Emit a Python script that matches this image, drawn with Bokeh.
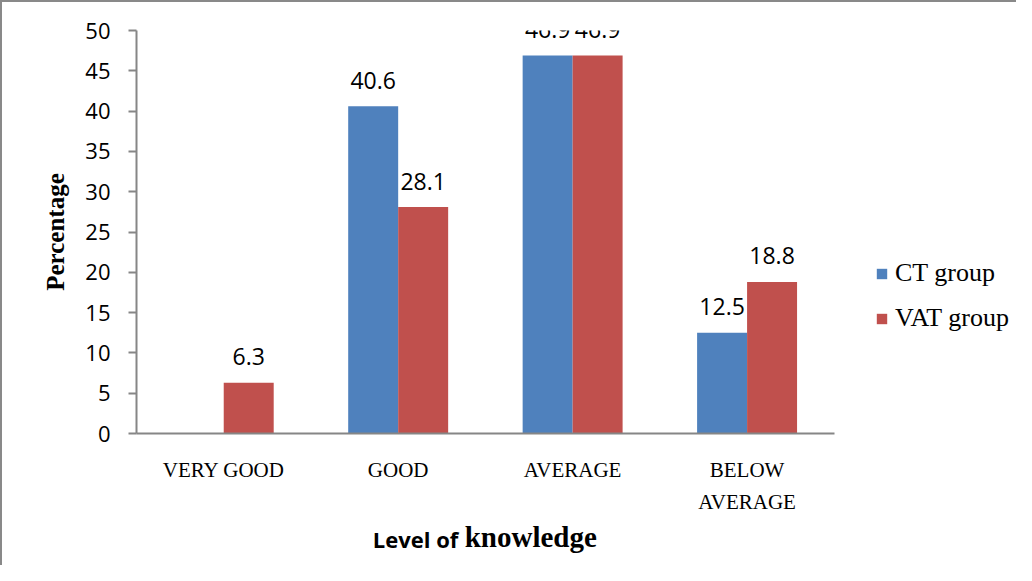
from bokeh.plotting import figure
from bokeh.models import (Range1d, ColumnDataSource, Legend, LegendItem,
                          FixedTicker, LinearAxis)
from bokeh.core.properties import value
from bokeh.embed import file_html
from bokeh.resources import INLINE

categories = ["VERY GOOD", "GOOD", "AVERAGE", "BELOW AVERAGE"]
ct_values = [0, 40.6, 46.9, 12.5]
vat_values = [6.3, 28.1, 46.9, 18.8]
series_names = ["CT group", "VAT group"]
y_ticks = [0, 5, 10, 15, 20, 25, 30, 35, 40, 45, 50]
x_title_words = ["Level of", "knowledge"]
y_title = "Percentage"

BLUE = "#4F81BD"
RED = "#C0504D"
AXIS = "#868686"

idx = list(range(len(categories)))
bw = 0.2865
off = bw / 2
source = ColumnDataSource(dict(
    xct=[i - off for i in idx], xvat=[i + off for i in idx],
    ct=ct_values, vat=vat_values,
    ctl=["" if v == 0 else f"{v}" for v in ct_values],
    vatl=["" if v == 0 else f"{v}" for v in vat_values]))

# the frame also spans the legend area on the right; the x axis line is bounded
p = figure(width=1016, height=565, x_range=Range1d(-0.5, 4.51),
           y_range=Range1d(0, 50), output_backend="svg", toolbar_location=None,
           min_border_left=134, min_border_right=8, min_border_top=28, min_border_bottom=134)
p.outline_line_color = None
p.xgrid.grid_line_color = None
p.ygrid.grid_line_color = None
p.styles = {"border-left": "2px solid #898989", "border-top": "2px solid #898989"}

r_ct = p.vbar(x="xct", top="ct", width=bw, source=source, fill_color=BLUE, line_color=None)
r_vat = p.vbar(x="xvat", top="vat", width=bw, source=source, fill_color=RED, line_color=None)

for xcol, ycol, tcol in (("xct", "ct", "ctl"), ("xvat", "vat", "vatl")):
    p.text(x=xcol, y=ycol, text=tcol, source=source,
           text_font=value("Open Sans"), text_font_size="23px", text_color="black",
           text_align="center", text_baseline="alphabetic", y_offset=-26)

# y axis
ya = p.yaxis[0]
ya.ticker = FixedTicker(ticks=y_ticks)
ya.axis_line_color = AXIS
ya.axis_line_width = 2
ya.major_tick_line_color = AXIS
ya.major_tick_line_width = 2
ya.major_tick_out = 8
ya.major_tick_in = 0
ya.minor_tick_line_color = None
ya.major_label_text_font = "Open Sans"
ya.major_label_text_font_size = "22px"
ya.major_label_text_color = "black"
ya.major_label_standoff = 18
ya.axis_label = y_title
ya.axis_label_text_font = "Liberation Serif"
ya.axis_label_text_font_style = "bold"
ya.axis_label_text_font_size = "25px"
ya.axis_label_text_color = "black"
ya.axis_label_standoff = 13


def plain_axis(ticks, overrides, font, size, standoff, style="normal"):
    return LinearAxis(ticker=FixedTicker(ticks=ticks), major_label_overrides=overrides,
                      axis_line_color=None,
                      major_tick_line_color=None, minor_tick_line_color=None,
                      major_tick_out=0, major_tick_in=0,
                      major_label_text_font=font, major_label_text_font_style=style,
                      major_label_text_font_size=size, major_label_text_color="black",
                      major_label_standoff=standoff)


# x axis: first line of category names
first_line = {i: c.split(" ")[0] if c.startswith("BELOW") else c for i, c in zip(idx, categories)}
xa = p.xaxis[0]
xa.ticker = FixedTicker(ticks=idx)
xa.major_label_overrides = first_line
xa.bounds = (-0.5, len(categories) - 0.5)
xa.axis_line_color = AXIS
xa.axis_line_width = 2
xa.major_tick_line_color = None
xa.major_tick_out = 0
xa.major_tick_in = 0
xa.minor_tick_line_color = None
xa.major_label_text_font = "Liberation Serif"
xa.major_label_text_font_size = "21px"
xa.major_label_text_color = "black"
xa.major_label_standoff = 24

# second line of "BELOW AVERAGE"
second = {i: c.split(" ", 1)[1] for i, c in zip(idx, categories) if c.startswith("BELOW")}
p.add_layout(plain_axis(list(second.keys()), second, "Liberation Serif", "21px", 5), "below")

# x title in two fonts
p.add_layout(plain_axis([1.1], {1.1: x_title_words[0]}, "Open Sans", "22px", 7, "bold"), "below")
p.add_layout(plain_axis([1.76], {1.76: x_title_words[1]}, "Liberation Serif", "29px", -36, "bold"), "below")

legend = Legend(items=[LegendItem(label=series_names[0], renderers=[r_ct]),
                       LegendItem(label=series_names[1], renderers=[r_vat])],
                location=(739, 100), orientation="vertical")
legend.label_text_font = "Liberation Serif"
legend.label_text_font_size = "26px"
legend.label_text_color = "black"
legend.glyph_width = 13
legend.glyph_height = 13
legend.label_height = 30
legend.spacing = 15
legend.label_standoff = 7
legend.padding = 0
legend.margin = 0
legend.border_line_color = None
legend.background_fill_alpha = 0
p.add_layout(legend, "center")

open("out.html", "w").write(file_html(p, INLINE))
